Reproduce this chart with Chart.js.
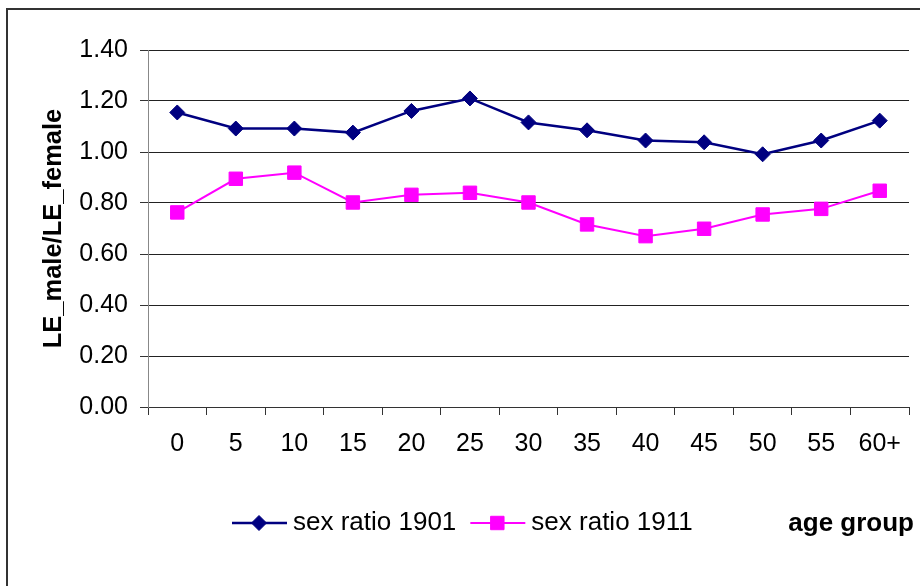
<!DOCTYPE html>
<html>
<head>
<meta charset="utf-8">
<script src="https://cdn.jsdelivr.net/npm/chart.js@4/dist/chart.umd.min.js"></script>
<style>
  html, body { margin: 0; padding: 0; background: #fff; }
  canvas { display: block; }
</style>
</head>
<body>
<canvas id="chart" width="920" height="586"></canvas>
<script>
// age groups on the x axis
var ageGroups = ["0", "5", "10", "15", "20", "25", "30", "35", "40", "45", "50", "55", "60+"];

// LE_male / LE_female per age group
var ratio1901 = [1.155, 1.092, 1.092, 1.076, 1.161, 1.210, 1.116, 1.085, 1.045, 1.038, 0.991, 1.045, 1.123];
var ratio1911 = [0.763, 0.895, 0.919, 0.802, 0.832, 0.840, 0.802, 0.716, 0.670, 0.699, 0.755, 0.777, 0.848];

var seriesNames = ["sex ratio 1901", "sex ratio 1911"];
var yTicks = [0, 0.2, 0.4, 0.6, 0.8, 1.0, 1.2, 1.4];

var FONT = "'Liberation Sans', Arial, sans-serif";

// draws a legend marker (diamond or square) centred on x,y
function drawMarker(ctx, style, x, y, r, color) {
  ctx.save();
  ctx.fillStyle = color;
  ctx.strokeStyle = color;
  ctx.lineWidth = 1;
  ctx.beginPath();
  if (style === "rectRot") {
    ctx.moveTo(x - r, y);
    ctx.lineTo(x, y - r);
    ctx.lineTo(x + r, y);
    ctx.lineTo(x, y + r);
  } else {
    var s = Math.SQRT1_2 * r;
    ctx.rect(x - s, y - s, 2 * s, 2 * s);
  }
  ctx.closePath();
  ctx.fill();
  ctx.stroke();
  ctx.restore();
}

// white background, frame, legend row and the "age group" caption
var decor = {
  id: "decor",
  beforeDraw: function(chart) {
    var ctx = chart.ctx;
    ctx.save();
    ctx.fillStyle = "#fff";
    ctx.fillRect(0, 0, chart.width, chart.height);
    ctx.strokeStyle = "#333";
    ctx.lineWidth = 2;
    ctx.beginPath();
    ctx.moveTo(7, chart.height);
    ctx.lineTo(7, 9);
    ctx.lineTo(chart.width, 9);
    ctx.stroke();
    ctx.restore();
  },
  afterDraw: function(chart) {
    var ctx = chart.ctx;
    var y = 523;
    var x = 232;
    ctx.save();
    ctx.font = "26px " + FONT;
    ctx.textBaseline = "middle";
    ctx.textAlign = "left";
    chart.data.datasets.forEach(function(ds) {
      ctx.strokeStyle = ds.borderColor;
      ctx.lineWidth = ds.borderWidth;
      ctx.beginPath();
      ctx.moveTo(x, y);
      ctx.lineTo(x + 55, y);
      ctx.stroke();
      drawMarker(ctx, ds.pointStyle, x + 27, y, ds.pointRadius, ds.pointBackgroundColor);
      ctx.fillStyle = "#000";
      ctx.fillText(ds.label, x + 61, y);
      x += 61 + ctx.measureText(ds.label).width + 14;
    });
    ctx.font = "bold 26px " + FONT;
    ctx.textAlign = "right";
    ctx.fillText("age group", 914, 524);
    ctx.restore();
  }
};

new Chart(document.getElementById("chart"), {
  type: "line",
  data: {
    labels: ageGroups,
    datasets: [
      {
        label: seriesNames[0],
        data: ratio1901,
        borderColor: "#000080",
        backgroundColor: "#000080",
        pointBackgroundColor: "#000080",
        pointBorderColor: "#000080",
        borderWidth: 2.5,
        pointStyle: "rectRot",
        pointRadius: 7.5,
        pointBorderWidth: 1,
        tension: 0,
        clip: false
      },
      {
        label: seriesNames[1],
        data: ratio1911,
        borderColor: "#ff00ff",
        backgroundColor: "#ff00ff",
        pointBackgroundColor: "#ff00ff",
        pointBorderColor: "#ff00ff",
        borderWidth: 2,
        pointStyle: "rect",
        pointRadius: 9.5,
        pointBorderWidth: 1,
        tension: 0,
        clip: false
      }
    ]
  },
  options: {
    responsive: false,
    animation: false,
    events: [],
    layout: { padding: { left: 0, top: 50, right: 11, bottom: 0 } },
    plugins: {
      legend: { display: false },
      tooltip: { enabled: false }
    },
    scales: {
      x: {
        offset: true,
        afterFit: function(scale) { scale.height = 179; },
        grid: {
          offset: true,
          drawOnChartArea: false,
          drawTicks: true,
          tickLength: 8,
          tickColor: "#333"
        },
        border: { color: "#333", width: 1 },
        ticks: {
          color: "#000",
          padding: 14,
          maxRotation: 0,
          autoSkip: false,
          font: { family: FONT, size: 25 }
        }
      },
      y: {
        min: 0,
        max: 1.4,
        afterFit: function(scale) { scale.width = 148; },
        afterBuildTicks: function(scale) {
          scale.ticks = yTicks.map(function(v) { return { value: v }; });
        },
        grid: {
          color: "#222",
          lineWidth: 1,
          drawTicks: true,
          tickLength: 8,
          tickColor: "#333"
        },
        border: { color: "#888", width: 1 },
        ticks: {
          color: "#000",
          padding: 12,
          font: { family: FONT, size: 25 },
          callback: function(v) { return Number(v).toFixed(2); }
        },
        title: {
          display: true,
          text: "LE_male/LE_female",
          color: "#000",
          padding: { top: 39, bottom: 0 },
          font: { family: FONT, size: 25.5, weight: "bold" }
        }
      }
    }
  },
  plugins: [decor]
});
</script>
</body>
</html>
